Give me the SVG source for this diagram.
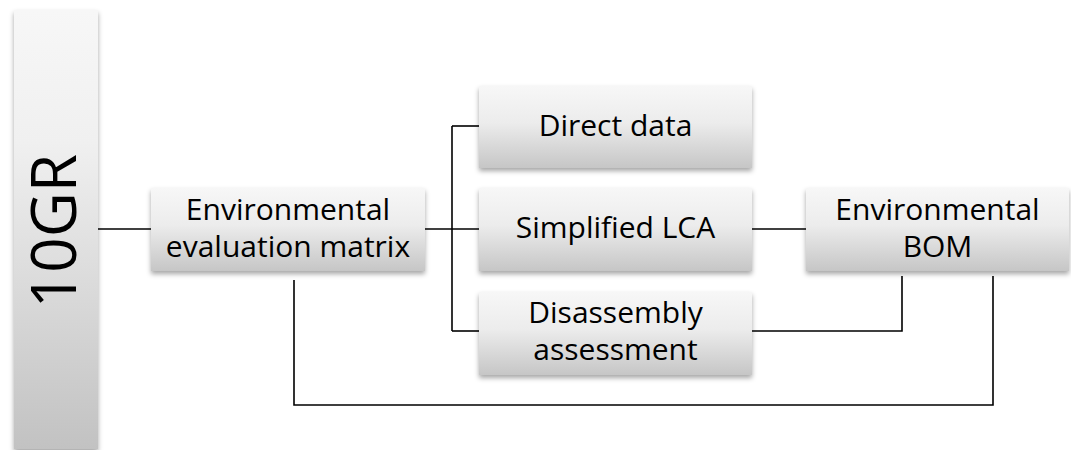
<svg xmlns="http://www.w3.org/2000/svg" width="1071" height="450" viewBox="0 0 1071 450">
  <defs>
    <linearGradient id="boxFill" x1="0" y1="0" x2="0" y2="1">
      <stop offset="0" stop-color="#f7f7f7"/>
      <stop offset="0.45" stop-color="#ececec"/>
      <stop offset="1" stop-color="#c6c6c6"/>
    </linearGradient>
    <linearGradient id="barFill" x1="0" y1="0" x2="0" y2="1">
      <stop offset="0" stop-color="#f7f7f7"/>
      <stop offset="0.3" stop-color="#f0f0f0"/>
      <stop offset="1" stop-color="#c2c2c2"/>
    </linearGradient>
    <filter id="shadow" x="-10%" y="-10%" width="120%" height="130%">
      <feDropShadow dx="0" dy="3" stdDeviation="2.5" flood-color="#000" flood-opacity="0.35"/>
    </filter>
  </defs>
  <style>
    .box { fill: url(#boxFill); filter: url(#shadow); }
    .bar { fill: url(#barFill); filter: url(#shadow); }
    .label { font-family: "Open Sans", "Liberation Sans", sans-serif; font-size: 30px; fill: #000; text-anchor: middle; }
    .title { font-family: "Open Sans", "Liberation Sans", sans-serif; font-size: 62px; fill: #000; text-anchor: middle; }
    .wire { fill: none; stroke: #000; stroke-width: 1.6; }
  </style>

  <rect width="1071" height="450" fill="#fff"/>

  <!-- connectors -->
  <g id="connectors">
    <path class="wire" d="M98 229 H152"/>
    <path class="wire" d="M425 229 H479"/>
    <path class="wire" d="M452 126 V331"/>
    <path class="wire" d="M452 126 H479"/>
    <path class="wire" d="M452 331 H479"/>
    <path class="wire" d="M752 229 H806"/>
    <path class="wire" d="M752 331 H902 V276"/>
    <path class="wire" d="M294 280 V405 H993 V276"/>
  </g>

  <!-- vertical side bar -->
  <g id="node-10gr">
    <rect class="bar" x="14" y="10" width="84" height="439"/>
    <text class="title" transform="translate(76 231) rotate(-90)">10GR</text>
  </g>

  <g id="node-matrix">
    <rect class="box" x="151" y="188" width="274" height="83"/>
    <text class="label" x="288" y="220">Environmental</text>
    <text class="label" x="288" y="257">evaluation matrix</text>
  </g>

  <g id="node-direct">
    <rect class="box" x="479" y="86" width="273" height="82"/>
    <text class="label" x="615.5" y="136">Direct data</text>
  </g>

  <g id="node-lca">
    <rect class="box" x="479" y="188" width="273" height="83"/>
    <text class="label" x="615.5" y="238">Simplified LCA</text>
  </g>

  <g id="node-disassembly">
    <rect class="box" x="479" y="292" width="273" height="83"/>
    <text class="label" x="615.5" y="323">Disassembly</text>
    <text class="label" x="615.5" y="360">assessment</text>
  </g>

  <g id="node-bom">
    <rect class="box" x="806" y="188" width="263" height="83"/>
    <text class="label" x="937.5" y="220">Environmental</text>
    <text class="label" x="937.5" y="257">BOM</text>
  </g>
</svg>
